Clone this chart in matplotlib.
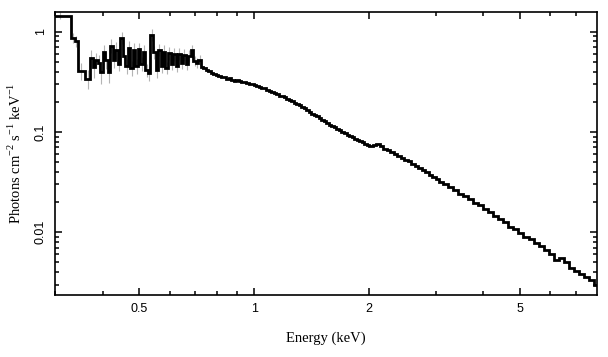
import numpy as np
import matplotlib
matplotlib.use('Agg')
import matplotlib.pyplot as plt
from matplotlib.ticker import FixedLocator, FixedFormatter, LogLocator, NullFormatter

plt.rcParams['mathtext.fontset'] = 'custom'
plt.rcParams['mathtext.rm'] = 'Liberation Serif'

# left bin edges (keV) of the unfolded spectrum, last list ends with the final right edge
edges_soft = [0.29, 0.330, 0.338, 0.344, 0.360,
              0.371, 0.377, 0.383, 0.388, 0.394, 0.400, 0.406, 0.413, 0.419, 0.425,
              0.432, 0.438, 0.445, 0.452, 0.459, 0.466, 0.473, 0.480, 0.488, 0.495,
              0.503, 0.510, 0.518, 0.526, 0.534, 0.543, 0.551, 0.559, 0.568, 0.577,
              0.585, 0.594, 0.604, 0.613, 0.622, 0.632, 0.641, 0.651, 0.661, 0.671,
              0.682, 0.692, 0.703, 0.714]
edges_mid = [0.7250, 0.7361, 0.7474, 0.7588, 0.7704, 0.7822, 0.7942, 0.8063, 0.8186, 0.8312,
             0.8439, 0.8568, 0.8699, 0.8832, 0.8967, 0.9104, 0.9244, 0.9385, 0.9529, 0.9675,
             0.9823, 0.9973, 1.0125, 1.0280, 1.0437, 1.0597, 1.0759, 1.0924, 1.1091, 1.1261,
             1.1433, 1.1608, 1.1786, 1.1966, 1.2149, 1.2335, 1.2524, 1.2715, 1.2910, 1.3107,
             1.3308, 1.3511, 1.3718, 1.3928, 1.4141, 1.4357, 1.4577, 1.4800, 1.5026, 1.5256,
             1.5490, 1.5727, 1.5967, 1.6211, 1.6459, 1.6711, 1.6967, 1.7226, 1.7490, 1.7757,
             1.8029, 1.8305, 1.8585, 1.8869, 1.9158, 1.9451, 1.9748]
edges_mid2 = [2.005, 2.048, 2.092, 2.137, 2.183, 2.230, 2.278, 2.327, 2.377, 2.428,
              2.480, 2.534, 2.588, 2.644, 2.701, 2.759, 2.818, 2.879, 2.941, 3.004,
              3.069]
edges_hard = [3.130, 3.227, 3.327, 3.430, 3.536, 3.646, 3.759, 3.875, 3.996, 4.119,
              4.247, 4.379, 4.514, 4.654, 4.798, 4.947, 5.100, 5.259, 5.422, 5.590,
              5.763, 5.942, 6.126, 6.316, 6.511, 6.713, 6.921, 7.136, 7.357, 7.585,
              7.820, 8.063]

# photons cm^-2 s^-1 keV^-1 per bin
flux_soft = [1.45, 0.87, 0.80, 0.41, 0.34,
             0.550, 0.447, 0.525, 0.490, 0.398, 0.631, 0.525, 0.398, 0.724, 0.525,
             0.661, 0.479, 0.871, 0.575, 0.457, 0.692, 0.437, 0.661, 0.457, 0.676,
             0.479, 0.631, 0.417, 0.389, 0.933, 0.631, 0.417, 0.661, 0.457, 0.631,
             0.437, 0.617, 0.479, 0.603, 0.457, 0.603, 0.490, 0.589, 0.479, 0.575,
             0.661, 0.513, 0.490, 0.525]
flux_mid = [0.447, 0.437, 0.417, 0.407, 0.389, 0.380, 0.372, 0.363, 0.355, 0.355,
            0.339, 0.347, 0.331, 0.324, 0.331, 0.324, 0.316, 0.316, 0.309, 0.302,
            0.302, 0.295, 0.288, 0.282, 0.275, 0.275, 0.263, 0.257, 0.251, 0.245,
            0.240, 0.229, 0.229, 0.224, 0.214, 0.209, 0.204, 0.195, 0.191, 0.186,
            0.178, 0.174, 0.166, 0.158, 0.151, 0.148, 0.145, 0.138, 0.132, 0.129,
            0.123, 0.117, 0.115, 0.112, 0.107, 0.105, 0.100, 0.0977, 0.0933, 0.0912,
            0.0891, 0.0851, 0.0832, 0.0813, 0.0794, 0.0759, 0.0741]
flux_mid2 = [0.0724, 0.0741, 0.0759, 0.0724, 0.0676, 0.0661, 0.0631, 0.0603, 0.0575, 0.0550,
             0.0525, 0.0513, 0.0479, 0.0457, 0.0437, 0.0417, 0.0398, 0.0372, 0.0355, 0.0339,
             0.0316]
flux_hard = [0.0302, 0.0282, 0.0263, 0.0240, 0.0229, 0.0214, 0.0195, 0.0186, 0.0170, 0.0158,
             0.0145, 0.0135, 0.0126, 0.0112, 0.0107, 0.00977, 0.00891, 0.00851, 0.00776, 0.00724,
             0.00661, 0.00603, 0.00525, 0.00550, 0.00501, 0.00437, 0.00407, 0.00380, 0.00355, 0.00331,
             0.00295]

# relative 1-sigma errors of the soft bins (the others are hidden by the line)
rel_err_soft = [0.08, 0.12, 0.12, 0.20, 0.22,
                0.20, 0.22, 0.18, 0.20, 0.24, 0.18, 0.20, 0.22, 0.16, 0.18,
                0.20, 0.16, 0.14, 0.18, 0.18, 0.16, 0.18, 0.16, 0.18, 0.15,
                0.16, 0.18, 0.15, 0.18, 0.13, 0.15, 0.17, 0.14, 0.15, 0.16,
                0.14, 0.15, 0.14, 0.15, 0.13, 0.14, 0.13, 0.14, 0.13, 0.13,
                0.12, 0.12, 0.12, 0.11]

x_major = [0.5, 1, 2, 5]
x_major_labels = ['0.5', '1', '2', '5']
y_major = [0.01, 0.1, 1]
y_major_labels = ['0.01', '0.1', '1']

edges = np.array(edges_soft + edges_mid + edges_mid2 + edges_hard)
flux = np.array(flux_soft + flux_mid + flux_mid2 + flux_hard)

fig = plt.figure(figsize=(6.08, 3.57), dpi=100)
ax = fig.add_axes([0.0905, 0.174, 0.8915, 0.793])

# error bars in light grey behind the step line
n = len(rel_err_soft)
centres = np.sqrt(edges[:n] * edges[1:n + 1])
f = np.array(flux_soft)
err = f * np.array(rel_err_soft)
ax.vlines(centres, f - err, f + err, color='#b4b4b4', lw=0.8, zorder=1)

ax.stairs(flux, edges, baseline=None, color='black', lw=2.0, zorder=2)

ax.set_xscale('log')
ax.set_yscale('log')
ax.set_xlim(0.3, 7.96)
ax.set_ylim(0.00237, 1.58)

ax.xaxis.set_major_locator(FixedLocator(x_major))
ax.xaxis.set_major_formatter(FixedFormatter(x_major_labels))
ax.xaxis.set_minor_locator(LogLocator(base=10, subs=np.arange(2, 10)))
ax.xaxis.set_minor_formatter(NullFormatter())
ax.yaxis.set_major_locator(FixedLocator(y_major))
ax.yaxis.set_major_formatter(FixedFormatter(y_major_labels))
ax.yaxis.set_minor_locator(LogLocator(base=10, subs=np.arange(2, 10)))
ax.yaxis.set_minor_formatter(NullFormatter())

ax.tick_params(which='both', direction='in', top=True, right=True, width=1.1)
ax.tick_params(which='major', length=5)
ax.tick_params(which='minor', length=2.8)
ax.tick_params(axis='x', which='major', pad=6)
ax.tick_params(axis='y', which='major', pad=6)
for lab in ax.get_xticklabels() + ax.get_yticklabels():
    lab.set_fontfamily('Liberation Sans')
    lab.set_fontsize(9)
for lab in ax.get_yticklabels():
    lab.set_rotation(90)
    lab.set_va('center')
for sp in ax.spines.values():
    sp.set_linewidth(1.2)

ax.set_xlabel('Energy (keV)', fontfamily='Liberation Serif', fontsize=10.5, labelpad=12)
ax.set_ylabel(r'Photons cm$^{-2}$ s$^{-1}$ keV$^{-1}$', fontfamily='Liberation Serif',
              fontsize=10.5, labelpad=8)

fig.savefig('out.png', dpi=100)
